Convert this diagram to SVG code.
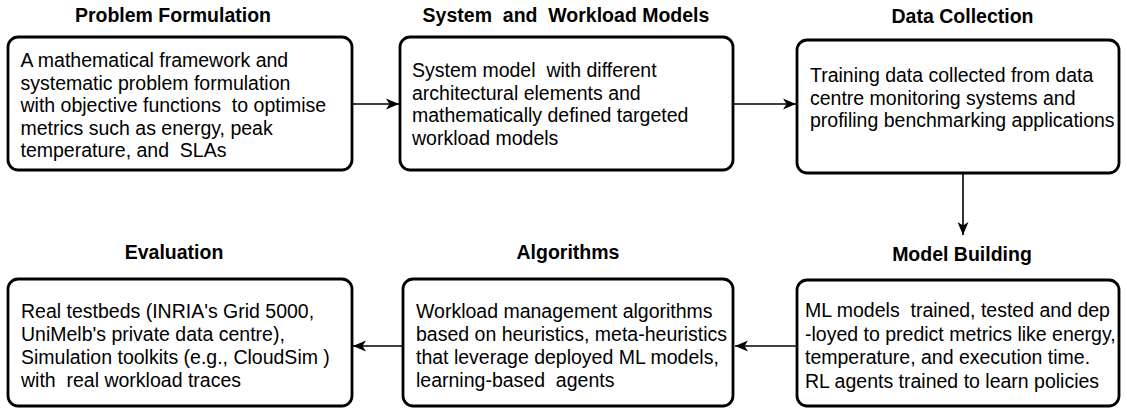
<svg xmlns="http://www.w3.org/2000/svg" width="1127" height="410" viewBox="0 0 1127 410">
<style>
.box{fill:#fff;stroke:#000;stroke-width:2.8}
.t{font-family:"Liberation Sans",Arial,sans-serif;font-size:19.5px;fill:#000}
.h{font-family:"Liberation Sans",Arial,sans-serif;font-size:19.5px;font-weight:bold;fill:#000;text-anchor:middle}
.c{fill:none;stroke:#000;stroke-width:1.6}
</style>
<defs>
<marker id="ah" markerWidth="14" markerHeight="12" refX="13" refY="6" orient="auto" markerUnits="userSpaceOnUse">
<path d="M0,0.5 L13,6 L0,11.5 L3.5,6 Z" fill="#000"/>
</marker>
</defs>
<g id="connectors">
<path class="c" d="M352,104 H399" marker-end="url(#ah)"/>
<path class="c" d="M733,104 H796" marker-end="url(#ah)"/>
<path class="c" d="M963,173 V235" marker-end="url(#ah)"/>
<path class="c" d="M797,346 H735" marker-end="url(#ah)"/>
<path class="c" d="M403,346 H353" marker-end="url(#ah)"/>
</g>
<g id="problem-formulation">
<text class="h" x="173" y="22">Problem Formulation</text>
<rect class="box" x="8" y="37" width="344" height="133" rx="10"/>
<text class="t" x="20.5" y="67">A mathematical framework and</text>
<text class="t" x="20.5" y="89.5">systematic problem formulation</text>
<text class="t" x="20.5" y="112" xml:space="preserve">with objective functions  to optimise</text>
<text class="t" x="20.5" y="134.5">metrics such as energy, peak</text>
<text class="t" x="20.5" y="157" xml:space="preserve">temperature, and  SLAs</text>
</g>
<g id="system-workload-models">
<text class="h" x="566" y="22" xml:space="preserve">System  and  Workload Models</text>
<rect class="box" x="400" y="37" width="333" height="133" rx="10"/>
<text class="t" x="412" y="77" xml:space="preserve">System model  with different</text>
<text class="t" x="412" y="99.7">architectural elements and</text>
<text class="t" x="412" y="122.3">mathematically defined targeted</text>
<text class="t" x="412" y="145">workload models</text>
</g>
<g id="data-collection">
<text class="h" x="962.5" y="23">Data Collection</text>
<rect class="box" x="797" y="40" width="322" height="133" rx="10"/>
<text class="t" x="810" y="82">Training data collected from data</text>
<text class="t" x="810" y="104.5">centre monitoring systems and</text>
<text class="t" x="810" y="127">profiling benchmarking applications</text>
</g>
<g id="model-building">
<text class="h" x="962" y="261">Model Building</text>
<rect class="box" x="797" y="280" width="322" height="126" rx="10"/>
<text class="t" x="805" y="317" xml:space="preserve">ML models  trained, tested and dep</text>
<text class="t" x="805" y="340.5">-loyed to predict metrics like energy,</text>
<text class="t" x="805" y="364">temperature, and execution time.</text>
<text class="t" x="805" y="387.5">RL agents trained to learn policies</text>
</g>
<g id="algorithms">
<text class="h" x="568" y="259">Algorithms</text>
<rect class="box" x="403" y="279" width="330" height="127" rx="10"/>
<text class="t" x="416" y="318">Workload management algorithms</text>
<text class="t" x="416" y="341">based on heuristics, meta-heuristics</text>
<text class="t" x="416" y="364">that leverage deployed ML models,</text>
<text class="t" x="416" y="387" xml:space="preserve">learning-based  agents</text>
</g>
<g id="evaluation">
<text class="h" x="174" y="259">Evaluation</text>
<rect class="box" x="8" y="279" width="344" height="127" rx="10"/>
<text class="t" x="21" y="318">Real testbeds (INRIA's Grid 5000,</text>
<text class="t" x="21" y="341">UniMelb's private data centre),</text>
<text class="t" x="21" y="364">Simulation toolkits (e.g., CloudSim )</text>
<text class="t" x="21" y="387" xml:space="preserve">with  real workload traces</text>
</g>
</svg>
